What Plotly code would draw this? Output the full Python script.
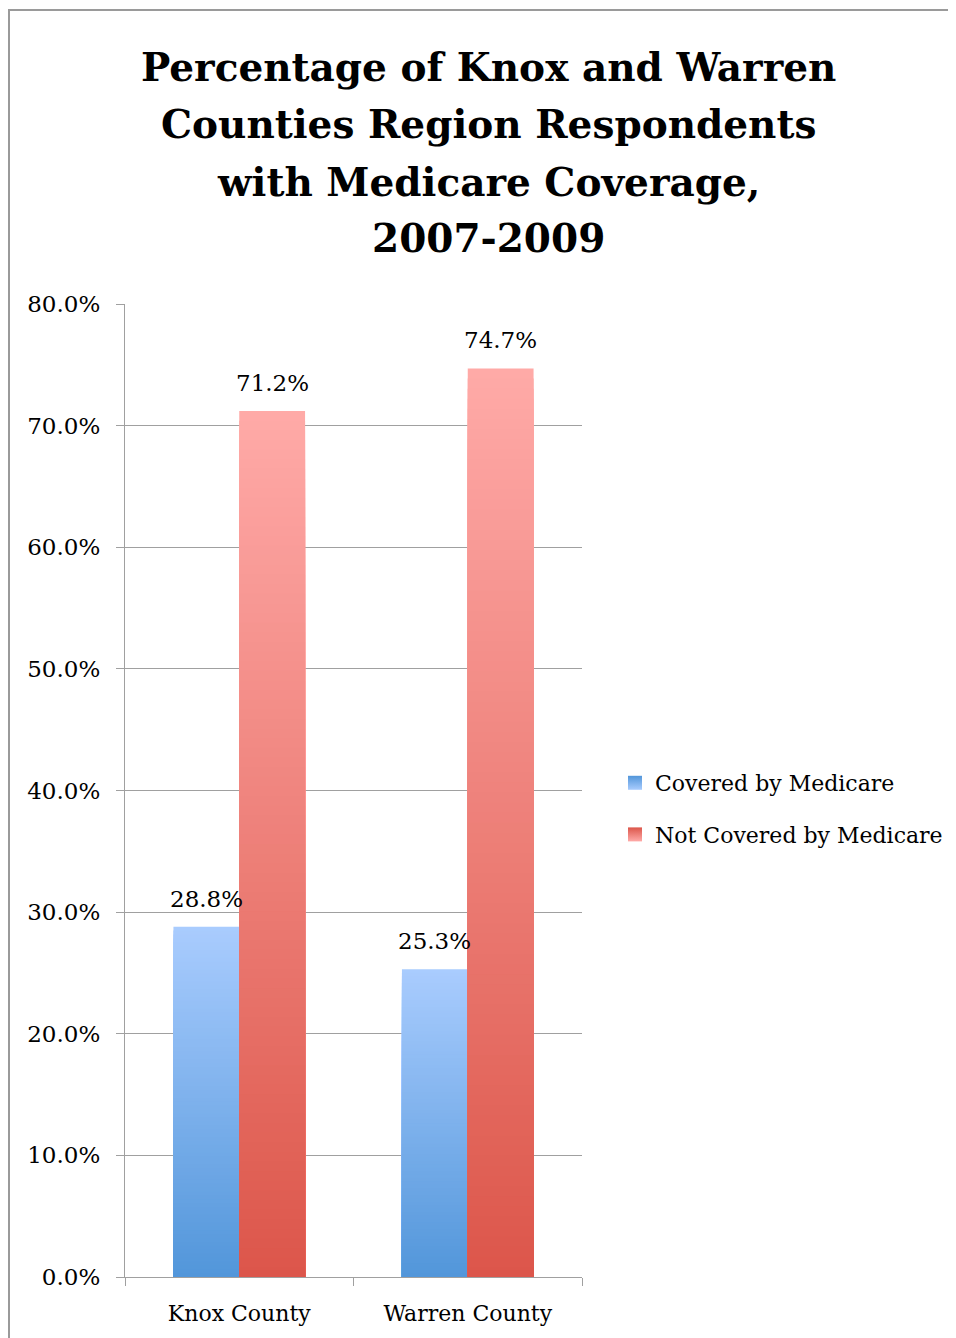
import plotly.graph_objects as go

categories = ["Knox County", "Warren County"]
series_names = ["Covered by Medicare", "Not Covered by Medicare"]
covered = [28.8, 25.3]
not_covered = [71.2, 74.7]
title_lines = ["Percentage of Knox and Warren", "Counties Region Respondents",
               "with Medicare Coverage,", "2007-2009"]

# gradient colours (top -> bottom)
grad = {
    "Covered by Medicare": ((169, 204, 254), (82, 150, 218)),
    "Not Covered by Medicare": ((255, 170, 168), (220, 86, 74)),
}

FONT = "DejaVu Serif"
N = 90
OFF = 8  # page body margin
W, H = 956 - OFF, 1338 - OFF
L, R, T, B = 125 - OFF, 956 - 582, 304 - OFF, 1338 - 1277
pw, ph = W - L - R, H - T - B


def px_x(x):
    return (x - OFF - L) / pw


def px_y(y):
    return 1 - (y - OFF - T) / ph


fig = go.Figure()
for name, vals in zip(series_names, [covered, not_covered]):
    top, bot = grad[name]
    # overlaid bars from tallest (lightest) to shortest (darkest): smooth vertical gradient
    for i in range(N, 0, -1):
        t = (i - 0.5) / N
        c = tuple(round(bot[k] + (top[k] - bot[k]) * t) for k in range(3))
        fig.add_trace(go.Bar(
            x=categories,
            y=[v * i / N for v in vals],
            offsetgroup=name,
            legendgroup=name,
            name=name,
            showlegend=False,
            marker=dict(color="rgb(%d,%d,%d)" % c, line=dict(width=0)),
            hoverinfo="skip",
        ))
    # legend entry
    fig.add_trace(go.Scatter(
        x=[None], y=[None], name=name, legendgroup=name, mode="markers",
        marker=dict(symbol="square", size=14, color="rgb(%d,%d,%d)" % bot,
                    gradient=dict(type="vertical", color="rgb(%d,%d,%d)" % top)),
        showlegend=True,
    ))

annotations = []
for vals, xs in [(covered, -33), (not_covered, 33)]:
    for cat, v in zip(categories, vals):
        annotations.append(dict(
            x=cat, y=v, xref="x", yref="y", text=f"{v:.1f}%", showarrow=False,
            xshift=xs, yshift=13, yanchor="bottom",
            font=dict(family=FONT, size=23, color="#000000"),
        ))

title_y = [67, 124, 182, 238]
for line, yy in zip(title_lines, title_y):
    annotations.append(dict(
        x=px_x(488), y=px_y(yy), xref="paper", yref="paper", text="<b>%s</b>" % line,
        showarrow=False, xanchor="center", yanchor="middle",
        font=dict(family=FONT, size=39, color="#000000"),
    ))

fig.update_layout(
    width=W, height=H,
    margin=dict(l=L, r=R, t=T, b=B, autoexpand=False),
    paper_bgcolor="white", plot_bgcolor="white",
    barmode="group", bargap=0.424, bargroupgap=0,
    font=dict(family=FONT, size=23, color="#000000"),
    showlegend=True,
    legend=dict(x=px_x(615), y=px_y(762), xanchor="left", yanchor="top",
                font=dict(family=FONT, size=22, color="#000000"),
                traceorder="grouped", tracegroupgap=20, bgcolor="rgba(0,0,0,0)"),
    annotations=annotations,
    hovermode=False,
    shapes=[dict(type="rect", xref="paper", yref="paper",
                 x0=px_x(9), x1=px_x(1010),
                 y0=px_y(1400), y1=px_y(10),
                 line=dict(color="#9a9a9a", width=2), fillcolor="rgba(0,0,0,0)", layer="below")],
)
fig.update_yaxes(range=[0, 80], dtick=10, tickformat=".1f", ticksuffix="%",
                 showgrid=True, gridcolor="#a0a0a0", gridwidth=1.3,
                 showline=True, linecolor="#a0a0a0", linewidth=1.3,
                 ticks="outside", ticklen=8, tickcolor="#a0a0a0", tickwidth=1.3,
                 ticklabelstandoff=11,
                 zeroline=False, tickfont=dict(family=FONT, size=23))
fig.update_xaxes(showline=True, linecolor="#a0a0a0", linewidth=1.3,
                 ticks="outside", ticklen=8, tickcolor="#a0a0a0", tickwidth=1.3,
                 tickson="boundaries", showgrid=False, ticklabelstandoff=16,
                 tickfont=dict(family=FONT, size=22))

fig.write_html("out.html")
